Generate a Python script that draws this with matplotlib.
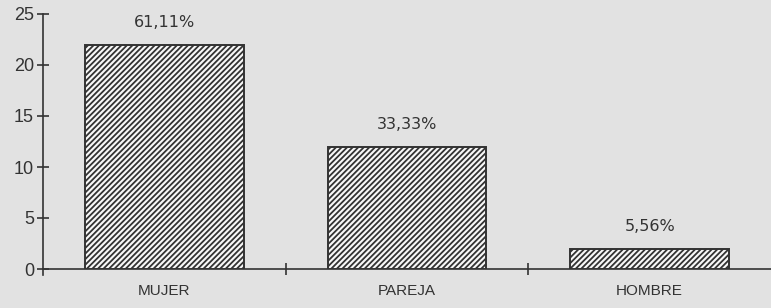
import matplotlib
matplotlib.use("Agg")
import matplotlib.pyplot as plt

categories = ["MUJER", "PAREJA", "HOMBRE"]
values = [22, 12, 2]
pct_labels = ["61,11%", "33,33%", "5,56%"]
yticks = [0, 5, 10, 15, 20, 25]

bg = "#e2e2e2"
plt.rcParams['font.family'] = ['Liberation Sans', 'DejaVu Sans']
plt.rcParams['hatch.linewidth'] = 1.3
plt.rcParams['hatch.color'] = '#3a3a3a'

fig = plt.figure(figsize=(7.71, 3.08), dpi=100, facecolor=bg)
ax = fig.add_axes([43/771, 39/308, 1 - 43/771, 255/308])
ax.set_facecolor(bg)

x = list(range(len(categories)))
bars = ax.bar(x, values, width=0.655, color='#f8f8f8', edgecolor='#333333',
              linewidth=1.4, hatch='//////', zorder=3)

for xi, v, lab in zip(x, values, pct_labels):
    ax.annotate(lab, (xi, v), xytext=(0, 16), textcoords='offset points',
                ha='center', va='center', fontsize=11.5, color='#333333',
                family=['DejaVu Sans'])

ax.set_xlim(-0.5, 2.5)
ax.set_ylim(0, 25)
ax.set_yticks(yticks)
ax.set_xticks(x)
ax.set_xticklabels(categories)
ax.set_xticks([0.5, 1.5], minor=True)

for s in ['top', 'right']:
    ax.spines[s].set_visible(False)
ax.spines['left'].set_color('#333333')
ax.spines['bottom'].set_color('#333333')
ax.spines['left'].set_linewidth(1.2)
ax.spines['bottom'].set_linewidth(1.2)
ax.spines['left'].set_bounds(-0.6, 25)

ax.tick_params(axis='y', direction='inout', length=9, width=1.2, color='#333333',
               labelsize=13, labelcolor='#333333', pad=2)
ax.tick_params(axis='x', which='major', length=0, labelsize=11, labelcolor='#333333', pad=11)
ax.tick_params(axis='x', which='minor', direction='inout', length=8, width=1.2, color='#333333')

fig.savefig("out.png", dpi=100, facecolor=bg)
